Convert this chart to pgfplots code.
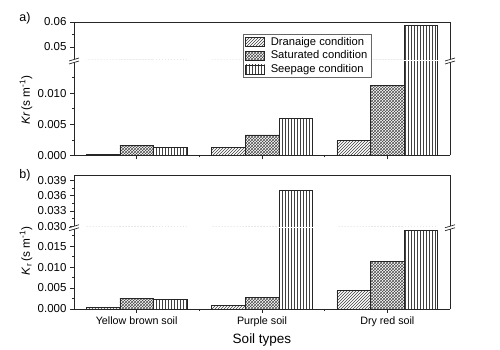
\documentclass[border=0pt]{standalone}
\usepackage{pgfplots}
\pgfplotsset{compat=1.18}
\usetikzlibrary{patterns}
\usepackage{fontspec}
\setmainfont{Liberation Sans}

\pgfplotsset{
  brk/.style={
    scale only axis, width=376pt, xmin=-0.5, xmax=2.5,
    ybar=0pt, bar width=0.268,
    axis y line*=left,
    axis line style={-, line width=0.8pt, black!85},
    tick align=outside, major tick length=4pt, minor tick length=2pt,
    tick style={black!85, line width=0.6pt},
    scaled y ticks=false,
    /pgf/number format/assume math mode=true,
    y tick label style={font=\fontsize{11.5}{13}\selectfont,
      /pgf/number format/fixed, /pgf/number format/fixed zerofill,
      /pgf/number format/precision=3},
    x tick label style={font=\fontsize{10.7}{12}\selectfont},
    legend image code/.code={\draw[#1] (0pt,-4.5pt) rectangle (19pt,4.5pt);},
  },
  upper/.style={brk, axis x line*=top, xtick=\empty},
  lower/.style={brk, axis x line*=bottom, xtick={0,1,2}, minor xtick={0.5,1.5}},
  dran/.style={draw=black!85, line width=0.5pt, pattern=north east lines, pattern color=black!75},
  satu/.style={draw=black!85, line width=0.5pt, pattern=crosshatch, pattern color=black!70},
  seep/.style={draw=black!85, line width=0.5pt, pattern=vertical lines, pattern color=black!75},
}

\begin{document}
\begin{tikzpicture}[x=1pt,y=1pt]
\useasboundingbox (0,0) rectangle (500,350);

% ---------- panel a, upper ----------
\begin{axis}[upper, name=aup, at={(74pt,290pt)}, anchor=south west,
  height=38pt, ymin=0.0448, ymax=0.06,
  ytick={0.05,0.06}, minor ytick={0.055},
  y tick label style={/pgf/number format/precision=2},
  legend style={at={(0.4495,0.684)}, anchor=north west, draw=black!60,
    line width=0.5pt, font=\fontsize{11.2}{12}\selectfont,
    inner xsep=2pt, inner ysep=1pt, row sep=0pt, column sep=4pt,
    cells={anchor=west}},
  legend cell align=left]
\addplot[dran] coordinates {(0,0.00024) (1,0.0013) (2,0.00237)};
\addplot[satu] coordinates {(0,0.00157) (1,0.0033) (2,0.0113)};
\addplot[seep] coordinates {(0,0.0013) (1,0.00595) (2,0.0585)};
\legend{Dranaige condition, Saturated condition, Seepage condition}
\end{axis}

% ---------- panel a, lower ----------
\begin{axis}[lower, name=alow, at={(74pt,194.5pt)}, anchor=south west,
  height=93.5pt, ymin=0, ymax=0.015,
  ytick={0,0.005,0.010}, minor ytick={0.0025,0.0075,0.0125},
  xticklabels={}]
\addplot[dran] coordinates {(0,0.00024) (1,0.0013) (2,0.00237)};
\addplot[satu] coordinates {(0,0.00157) (1,0.0033) (2,0.0113)};
\addplot[seep] coordinates {(0,0.0013) (1,0.00595) (2,0.0585)};
\end{axis}

% ---------- panel b, upper ----------
\begin{axis}[upper, name=bup, at={(74pt,123pt)}, anchor=south west,
  height=52pt, ymin=0.02985, ymax=0.040,
  ytick={0.030,0.033,0.036,0.039}, minor ytick={0.0315,0.0345,0.0375}]
\addplot[dran] coordinates {(0,0.0003) (1,0.00088) (2,0.00453)};
\addplot[satu] coordinates {(0,0.00246) (1,0.0027) (2,0.0114)};
\addplot[seep] coordinates {(0,0.0023) (1,0.0370) (2,0.01869)};
\end{axis}

% ---------- panel b, lower ----------
\begin{axis}[lower, name=blow, at={(74pt,41pt)}, anchor=south west,
  height=80.5pt, ymin=0, ymax=0.0192,
  ytick={0,0.005,0.010,0.015}, minor ytick={0.0025,0.0075,0.0125,0.0175},
  xticklabels={Yellow brown soil, Purple soil, Dry red soil}]
\addplot[dran] coordinates {(0,0.0003) (1,0.00088) (2,0.00453)};
\addplot[satu] coordinates {(0,0.00246) (1,0.0027) (2,0.0114)};
\addplot[seep] coordinates {(0,0.0023) (1,0.0370) (2,0.01869)};
\end{axis}

% right frame lines
\draw[line width=0.8pt, black!85] (aup.south east) -- (aup.north east);
\draw[line width=0.8pt, black!85] (alow.south east) -- (alow.north east);
\draw[line width=0.8pt, black!85] (bup.south east) -- (bup.north east);
\draw[line width=0.8pt, black!85] (blow.south east) -- (blow.north east);

% break marks
\foreach \bx/\by in {74/289, 450/289, 74/122.25, 450/122.25} {
  \fill[white] (\bx-5,\by-3) -- (\bx+5,\by) -- (\bx+5,\by+3) -- (\bx-5,\by) -- cycle;
  \draw[line width=0.7pt, black!85] (\bx-5,\by-3) -- (\bx+5,\by);
  \draw[line width=0.7pt, black!85] (\bx-5,\by) -- (\bx+5,\by+3);
}

% labels
\node[rotate=90, font=\fontsize{11.8}{14}\selectfont] at (26,250) {\textit{Kr}\,(s m\textsuperscript{-1})};
\node[rotate=90, font=\fontsize{11.8}{14}\selectfont] at (26,99) {\textit{K}\textsubscript{r}\,(s m\textsuperscript{-1})};
\node[font=\fontsize{12.5}{14}\selectfont] at (25,332) {a)};
\node[font=\fontsize{12.5}{14}\selectfont] at (25,175) {b)};
\node[font=\fontsize{13.5}{15}\selectfont] at (262,10) {Soil types};
\end{tikzpicture}
\end{document}
